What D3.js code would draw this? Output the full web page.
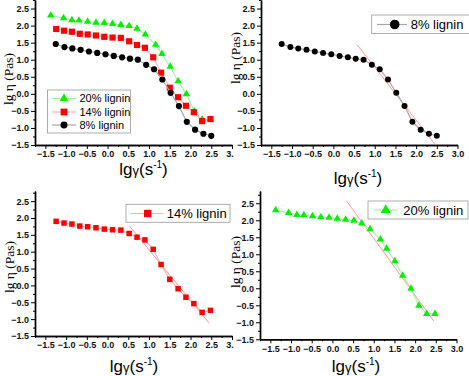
<!DOCTYPE html>
<html>
<head>
<meta charset="utf-8">
<script src="https://cdn.jsdelivr.net/npm/d3@7"></script>
<style>
body { margin:0; background:#fff; }
svg { display:block; }
</style>
</head>
<body>
<div id="viz"></div>
<script>
var lgRate8  = [-1.25,-1.04,-0.85,-0.65,-0.45,-0.25,-0.05,0.15,0.35,0.54,0.73,0.93,1.12,1.32,1.52,1.72,1.91,2.11,2.31,2.50]
var lgVisc8  = [1.46,1.37,1.33,1.29,1.24,1.20,1.16,1.11,1.07,1.03,1.00,0.85,0.72,0.42,0.03,-0.36,-0.82,-1.05,-1.17,-1.23]

var lgRate14 = [-1.24,-1.05,-0.86,-0.67,-0.48,-0.28,-0.08,0.12,0.32,0.52,0.71,0.90,1.10,1.29,1.50,1.70,1.89,2.08,2.28,2.48]
var lgVisc14 = [1.90,1.85,1.82,1.76,1.74,1.71,1.67,1.65,1.64,1.54,1.43,1.35,1.07,0.62,0.18,-0.10,-0.35,-0.54,-0.80,-0.74]

var lgRate20 = [-1.37,-1.06,-0.86,-0.69,-0.48,-0.28,-0.08,0.12,0.32,0.52,0.71,0.91,1.16,1.31,1.51,1.70,1.90,2.09,2.28,2.48]
var lgVisc20 = [2.30,2.22,2.16,2.15,2.12,2.09,2.08,2.05,2.02,1.99,1.91,1.74,1.44,1.17,0.80,0.37,-0.01,-0.51,-0.75,-0.75]

// linear fits of the shear-thinning part
var fit8X  = [0.58, 2.45], fit8Y  = [1.43, -1.47]
var fit14X = [0.53, 2.45], fit14Y = [1.76, -1.12]
var fit20X = [0.34, 2.45], fit20Y = [2.57, -0.96]

var xTicks = [-1.5,-1.0,-0.5,0.0,0.5,1.0,1.5,2.0,2.5,3.0]
var yTicks = [-1.5,-1.0,-0.5,0.0,0.5,1.0,1.5,2.0,2.5]
var labels = ["8% lignin", "14% lignin", "20% lignin"]

function zip(xs, ys) { return xs.map(function(x,i){ return {x:x, y:ys[i]} }) }

var S8  = {name:labels[0], data:zip(lgRate8, lgVisc8),  sym:d3.symbolCircle,   fill:"#000",    line:"#a8a8a8"}
var S14 = {name:labels[1], data:zip(lgRate14, lgVisc14), sym:d3.symbolSquare,   fill:"#ff0000", line:"#ffb4b4"}
var S20 = {name:labels[2], data:zip(lgRate20, lgVisc20), sym:d3.symbolTriangle, fill:"#00f000", line:"#a8f0a8"}

var W = 469, H = 376

var svg = d3.select("#viz").append("svg")
  .attr("width", W).attr("height", H)

svg.append("clipPath").attr("id","leftClip")
  .append("rect").attr("x",0).attr("y",0).attr("width",234).attr("height",H)

var panels = [
  { x0:35, x1:232, yb:145, yt:0, ymax:2.75, clip:true,
    series:[[S20,24],[S14,38],[S8,30]], fit:null,
    xt:[143.5,175], yt2:[13,79],
    legend:{x:47.5, y:90, w:83, h:43, rows:[98.5,112,125], lx:[52,76], sx:64, tx:79.5, fs:11, ss:[32,46,38]} },
  { x0:261, x1:457.5, yb:145, yt:0, ymax:2.75,
    series:[[S8,28]], fit:[fit8X, fit8Y],
    xt:[358,184], yt2:[240,58],
    legend:{x:371.7, y:15, w:98, h:18.5, rows:[24.5], lx:[377,407], sx:394.7, tx:410.7, fs:13, ss:[72]} },
  { x0:35, x1:232, yb:336, yt:191, ymax:2.8, clip:true,
    series:[[S14,30]], fit:[fit14X, fit14Y],
    xt:[134,372], yt2:[14,267],
    legend:{x:126, y:204.3, w:104, h:18, rows:[213.5], lx:[130.7,163.3], sx:147.7, tx:166.7, fs:13, ss:[54]} },
  { x0:260, x1:456.5, yb:339.3, yt:191, ymax:2.86,
    series:[[S20,24]], fit:[fit20X, fit20Y],
    xt:[356,372], yt2:[240,262],
    legend:{x:368, y:201, w:100, h:18, rows:[210], lx:[374,397.3], sx:385.7, tx:403.3, fs:13, ss:[44]} }
]

panels.forEach(drawPanel)

function minors(lo, hi, step, majors) {
  var out = []
  for (var v = lo; v <= hi + 1e-9; v += step) {
    var r = Math.round(v*100)/100
    if (majors.indexOf(r) < 0) out.push(r)
  }
  return out
}

function drawPanel(p) {
  var g = svg.append("g")
  if (p.clip) g.attr("clip-path","url(#leftClip)")

  var x = d3.scaleLinear().domain([-1.75, 3.0]).range([p.x0, p.x1])
  var y = d3.scaleLinear().domain([-1.5, p.ymax]).range([p.yb, p.yt])

  // step 1 : axes ----
  var xAxis = d3.axisBottom(x).tickValues(xTicks).tickFormat(d3.format(".1f")).tickSize(4).tickSizeOuter(0).tickPadding(2)
  var xMinor = d3.axisBottom(x).tickValues(minors(-1.75, 3.0, 0.25, xTicks)).tickFormat("").tickSize(2).tickSizeOuter(0)
  var yAxis = d3.axisLeft(y).tickValues(yTicks).tickFormat(d3.format(".1f")).tickSize(4).tickSizeOuter(0).tickPadding(2)
  var yMinor = d3.axisLeft(y).tickValues(minors(-1.25, p.ymax, 0.25, yTicks)).tickFormat("").tickSize(2).tickSizeOuter(0)

  var ax = g.append("g").attr("transform","translate(0," + p.yb + ")")
  ax.call(xMinor)
  ax.append("g").call(xAxis)
  var ay = g.append("g").attr("transform","translate(" + p.x0 + ",0)")
  ay.call(yMinor)
  ay.append("g").call(yAxis)

  g.selectAll(".domain").attr("stroke","#000").attr("stroke-width",1.4)
  g.selectAll(".tick line").attr("stroke","#000").attr("stroke-width",1)
  g.selectAll(".tick text")
    .style("font-family","'Liberation Sans', Arial, sans-serif")
    .style("font-size","9px").style("font-weight","bold").attr("fill","#111")

  // step 2 : fit line ----
  if (p.fit) {
    g.append("line")
      .attr("x1", x(p.fit[0][0])).attr("y1", y(p.fit[1][0]))
      .attr("x2", x(p.fit[0][1])).attr("y2", y(p.fit[1][1]))
      .attr("stroke","#ff8c8c").attr("stroke-width",0.9)
  }

  // step 3 : series ----
  var line = d3.line().x(function(d){ return x(d.x) }).y(function(d){ return y(d.y) })
  p.series.forEach(function(s) {
    var ser = s[0]
    g.append("path").datum(ser.data)
      .attr("d", line).attr("fill","none")
      .attr("stroke", ser.line).attr("stroke-width",1.2)
    g.append("g").selectAll("path")
      .data(ser.data).enter().append("path")
      .attr("transform", function(d){ return "translate(" + x(d.x) + "," + y(d.y) + ")" })
      .attr("d", d3.symbol().type(ser.sym).size(s[1]))
      .attr("fill", ser.fill)
  })

  // step 4 : titles ----
  var xt = g.append("text")
    .attr("x", p.xt[0]).attr("y", p.xt[1])
    .attr("text-anchor","middle")
    .style("font-family","'Liberation Sans', Arial, sans-serif")
    .style("font-size","17px")
  xt.append("tspan").text("lg")
  xt.append("tspan").style("font-size","13px").text("γ")
  xt.append("tspan").text("(s")
  xt.append("tspan").style("font-size","10px").attr("dy",-7).text("-1")
  xt.append("tspan").attr("dy",7).text(")")

  svg.append("text")
    .attr("transform","translate(" + p.yt2[0] + "," + p.yt2[1] + ") rotate(-90)")
    .attr("text-anchor","middle")
    .style("font-family","'Liberation Serif', 'Times New Roman', serif")
    .style("font-size","13.5px")
    .text("lg η (Pas)")

  // step 5 : legend ----
  var L = p.legend
  var lg = g.append("g")
  lg.append("rect")
    .attr("x", L.x).attr("y", L.y).attr("width", L.w).attr("height", L.h)
    .attr("fill","#fff").attr("stroke","#999").attr("stroke-width",0.8)
  p.series.forEach(function(s, i) {
    var ser = s[0], ry = L.rows[i]
    lg.append("line")
      .attr("x1", L.lx[0]).attr("x2", L.lx[1]).attr("y1", ry).attr("y2", ry)
      .attr("stroke", ser.line).attr("stroke-width",1.2)
    lg.append("path")
      .attr("transform","translate(" + L.sx + "," + ry + ")")
      .attr("d", d3.symbol().type(ser.sym).size(L.ss[i]))
      .attr("fill", ser.fill)
    lg.append("text")
      .attr("x", L.tx).attr("y", ry + L.fs*0.36)
      .style("font-family","'Liberation Sans', Arial, sans-serif")
      .style("font-size", L.fs + "px")
      .text(ser.name)
  })
}
</script>
</body>
</html>
